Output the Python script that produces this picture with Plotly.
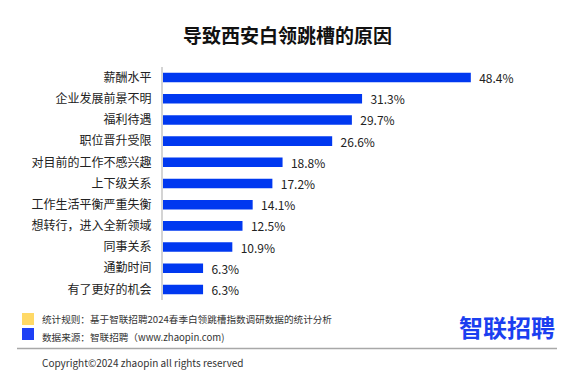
import plotly.graph_objects as go

categories = ["薪酬水平", "企业发展前景不明", "福利待遇", "职位晋升受限", "对目前的工作不感兴趣",
              "上下级关系", "工作生活平衡严重失衡", "想转行，进入全新领域", "同事关系", "通勤时间", "有了更好的机会"]
values = [48.4, 31.3, 29.7, 26.6, 18.8, 17.2, 14.1, 12.5, 10.9, 6.3, 6.3]
labels = [f"{v:.1f}%" for v in values]

title = "导致西安白领跳槽的原因"
note1 = "统计规则：基于智联招聘2024春季白领跳槽指数调研数据的统计分析"
note2 = "数据来源：智联招聘（www.zhaopin.com)"
copyright_text = "Copyright©2024 zhaopin all rights reserved"
logo = "智联招聘"

OFF = 8  # page body margin
W, H = 572 - OFF, 389 - OFF
L, R, T, B = 163 - OFF, 555 - OFF, 67 - OFF, 300 - OFF
FONT = "Noto Sans CJK SC, Microsoft YaHei, sans-serif"

def px(x):
    return (x - OFF - L) / (R - L)

def py(y):
    return (B - (y - OFF)) / (B - T)

fig = go.Figure(go.Bar(
    x=values, y=categories, orientation="h",
    marker=dict(color="#0038F0", line=dict(width=0)),
    text=labels, texttemplate="  %{text}", textposition="outside",
    textfont=dict(size=12, color="#222", family=FONT),
    constraintext="none",
    cliponaxis=False, hoverinfo="skip",
))

fig.update_layout(
    width=W, height=H,
    margin=dict(l=L, r=W - R, t=T, b=H - B, pad=0, autoexpand=False),
    paper_bgcolor="white", plot_bgcolor="white",
    font=dict(family=FONT, color="#222"),
    showlegend=False, bargap=0.55,
    xaxis=dict(range=[0, (R - L) / 6.36], visible=False, fixedrange=True, automargin=False),
    yaxis=dict(autorange="reversed", showline=True, linecolor="#d4d4d4", linewidth=2,
               ticks="", ticklabelstandoff=7, tickfont=dict(size=12, color="#222"),
               showgrid=False, zeroline=False, automargin=False),
)

ann = []
ann.append(dict(text=f"<b>{title}</b>", x=px(287), y=py(34), xref="paper", yref="paper",
                showarrow=False, xanchor="center", yanchor="middle",
                font=dict(size=19, color="#111", family=FONT)))
ann.append(dict(text=note1, x=px(40), y=py(319), xref="paper", yref="paper", showarrow=False,
                xanchor="left", yanchor="middle", font=dict(size=9.6, color="#333", family=FONT)))
ann.append(dict(text=note2, x=px(40), y=py(337), xref="paper", yref="paper", showarrow=False,
                xanchor="left", yanchor="middle", font=dict(size=9.6, color="#333", family=FONT)))
ann.append(dict(text=copyright_text, x=px(40), y=py(362), xref="paper", yref="paper", showarrow=False,
                xanchor="left", yanchor="middle", font=dict(size=10, color="#333", family=FONT)))
ann.append(dict(text=f"<b>{logo}</b>", x=px(507), y=py(326), xref="paper", yref="paper", showarrow=False,
                xanchor="center", yanchor="middle", font=dict(size=24, color="#1B3FF0", family=FONT)))
fig.update_layout(annotations=ann)

shapes = []
shapes.append(dict(type="rect", xref="paper", yref="paper", x0=px(22), x1=px(34), y0=py(313), y1=py(325),
                   fillcolor="#FFD966", line=dict(width=0)))
shapes.append(dict(type="rect", xref="paper", yref="paper", x0=px(22), x1=px(34), y0=py(328), y1=py(340),
                   fillcolor="#1E40F5", line=dict(width=0)))
shapes.append(dict(type="line", xref="paper", yref="paper", x0=px(17), x1=px(557), y0=py(348.5), y1=py(348.5),
                   line=dict(color="#a8a8a8", width=1.5)))
fig.update_layout(shapes=shapes)

fig.write_html("out.html")
